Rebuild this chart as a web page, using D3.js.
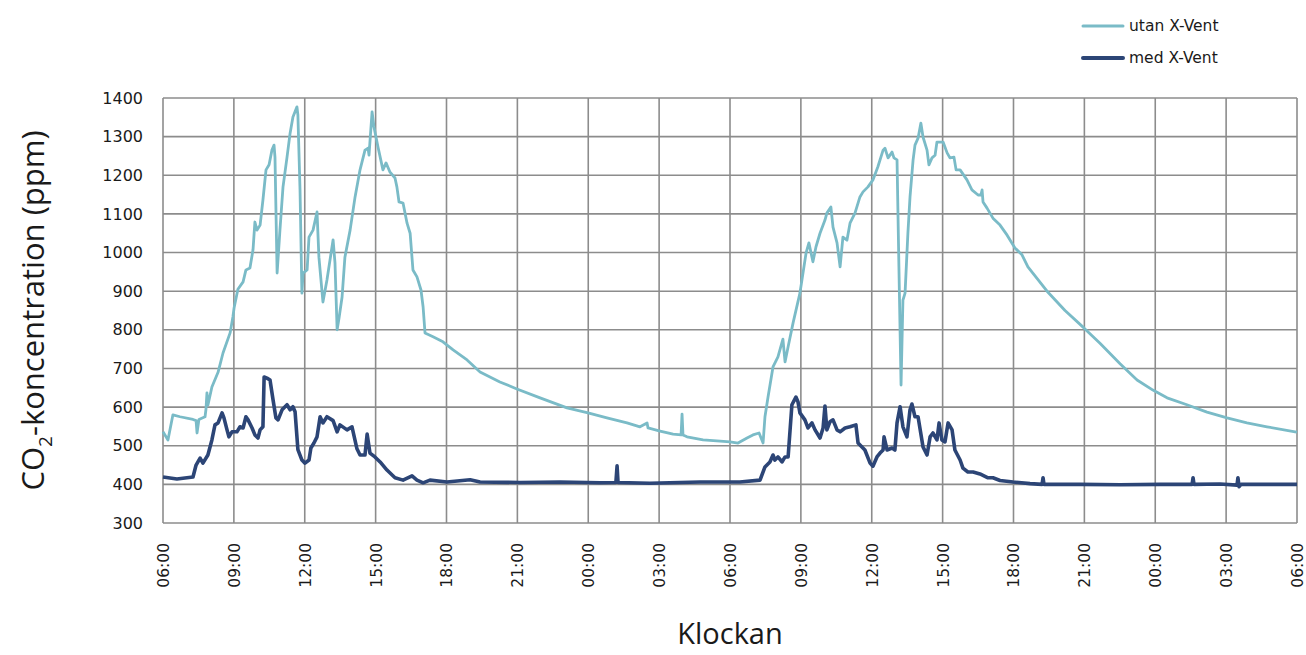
<!DOCTYPE html>
<html>
<head>
<meta charset="utf-8">
<script src="https://cdn.jsdelivr.net/npm/d3@7"></script>
<style>
  html, body { margin: 0; padding: 0; background: #fff; }
  svg { display: block; }
</style>
</head>
<body>
<svg id="chart" width="1306" height="655"></svg>
<script>
// Time in hours after 06:00 on day 1 (0..48)
const xTickLabels = ["06:00","09:00","12:00","15:00","18:00","21:00","00:00","03:00","06:00","09:00","12:00","15:00","18:00","21:00","00:00","03:00","06:00"];
const yTicks = [300,400,500,600,700,800,900,1000,1100,1200,1300,1400];
const seriesNames = ["utan X-Vent", "med X-Vent"];

const utanHours = [0.00,0.21,0.42,0.72,1.27,1.40,1.44,1.52,1.78,1.82,1.86,1.90,2.07,2.33,2.54,2.84,2.96,3.01,3.17,3.39,3.51,3.68,3.81,3.89,3.98,4.11,4.23,4.36,4.49,4.61,4.70,4.74,4.83,4.95,5.08,5.25,5.38,5.50,5.67,5.71,5.80,5.88,5.93,6.10,6.18,6.35,6.52,6.60,6.77,6.94,7.20,7.28,7.37,7.45,7.58,7.70,7.92,8.13,8.34,8.55,8.68,8.72,8.85,8.93,9.10,9.31,9.44,9.61,9.82,9.90,9.99,10.16,10.33,10.46,10.58,10.75,10.92,11.01,11.09,11.43,11.85,12.28,12.87,13.42,14.26,14.98,15.96,17.10,17.99,18.79,19.64,20.19,20.49,20.53,21.04,21.59,21.93,21.97,22.01,22.18,22.86,23.58,24.00,24.34,24.72,24.97,25.23,25.40,25.48,25.61,25.82,26.03,26.24,26.33,26.46,26.67,26.96,27.22,27.34,27.51,27.64,27.81,28.02,28.10,28.27,28.36,28.53,28.66,28.78,28.95,29.08,29.29,29.50,29.63,29.84,30.05,30.26,30.48,30.56,30.69,30.86,30.94,31.07,31.15,31.24,31.32,31.41,31.53,31.62,31.75,31.83,31.96,32.08,32.17,32.34,32.42,32.55,32.68,32.76,33.02,33.19,33.31,33.48,33.57,33.74,34.03,34.24,34.50,34.62,34.67,34.71,34.88,35.13,35.43,35.73,36.06,36.36,36.61,37.42,38.18,38.98,39.66,40.51,41.23,41.90,42.50,43.34,44.19,45.04,45.88,46.73,47.92,48.00];
const utanValues = [536,515,580,575,568,565,533,568,575,595,637,605,652,690,740,792,834,857,905,924,955,960,1007,1079,1058,1071,1136,1214,1227,1265,1278,1247,947,1058,1170,1247,1309,1351,1377,1356,1162,895,947,955,1040,1058,1105,988,872,929,1033,973,800,830,885,988,1058,1144,1214,1265,1270,1252,1364,1325,1273,1214,1232,1208,1193,1170,1131,1128,1076,1050,955,937,903,859,792,782,769,748,722,691,665,647,624,598,585,572,559,549,559,546,538,530,528,582,528,523,515,512,510,507,520,528,533,507,575,626,704,730,776,717,756,818,895,999,1025,976,1015,1050,1084,1102,1118,1066,1025,963,1040,1032,1076,1102,1144,1157,1170,1188,1222,1265,1270,1245,1260,1245,1240,963,657,877,895,1050,1144,1240,1278,1296,1335,1299,1265,1227,1245,1252,1286,1286,1258,1245,1247,1214,1214,1188,1162,1149,1149,1162,1131,1115,1089,1071,1045,1012,994,963,900,850,805,765,712,670,644,624,606,587,572,559,549,536,535];

const medHours = [0.00,0.59,1.27,1.40,1.57,1.69,1.90,2.07,2.20,2.33,2.50,2.58,2.71,2.79,2.92,3.13,3.26,3.39,3.51,3.60,3.77,3.89,4.02,4.11,4.23,4.28,4.40,4.53,4.66,4.78,4.87,5.04,5.25,5.38,5.50,5.59,5.71,5.88,6.01,6.18,6.26,6.39,6.52,6.65,6.77,6.94,7.20,7.37,7.49,7.79,8.00,8.21,8.34,8.55,8.64,8.76,8.97,9.19,9.48,9.82,10.16,10.54,10.75,11.01,11.30,12.02,13.00,13.42,15.11,16.80,18.50,19.17,19.22,19.26,20.61,22.73,24.42,25.27,25.48,25.69,25.82,25.90,26.03,26.20,26.33,26.46,26.62,26.79,26.88,26.96,27.17,27.30,27.47,27.60,27.81,27.94,28.02,28.10,28.23,28.36,28.53,28.66,28.87,29.08,29.33,29.42,29.71,29.93,30.05,30.22,30.35,30.48,30.52,30.65,30.86,30.98,31.07,31.20,31.32,31.49,31.62,31.70,31.83,31.96,32.17,32.34,32.47,32.59,32.76,32.85,32.97,33.10,33.23,33.40,33.52,33.74,33.86,34.07,34.29,34.58,34.92,35.13,35.43,35.98,36.70,37.21,37.25,37.29,38.82,40.51,42.20,43.56,43.60,43.64,44.74,45.46,45.50,45.55,45.63,46.86,48.00];
const medValues = [419,414,419,450,468,455,476,515,554,559,585,572,541,523,536,536,549,546,575,567,546,528,520,541,549,678,675,670,618,572,567,593,606,593,601,588,490,463,455,463,494,507,523,575,559,575,565,536,554,541,549,492,476,476,530,481,471,458,437,417,411,422,411,404,411,406,412,406,405,406,404,405,448,405,403,406,406,411,445,458,476,463,471,458,471,471,606,626,613,585,567,546,559,541,520,546,603,541,562,567,541,536,546,549,554,507,489,455,447,471,481,489,523,489,494,489,559,601,549,523,593,608,575,575,497,476,523,533,515,559,515,510,559,541,489,463,442,432,432,427,417,417,410,406,402,400,417,400,400,399,400,400,417,400,401,398,417,394,400,400,400];

const colors = ["#7abbc7", "#2c4576"];

const svg = d3.select("#chart");
const margin = {left: 163, right: 9, top: 98, bottom: 132};
const W = 1306, H = 655;
const x = d3.scaleLinear().domain([0, 48]).range([margin.left, W - margin.right]);
const y = d3.scaleLinear().domain([300, 1400]).range([H - margin.bottom, margin.top]);

const gridColor = "#8c8c8c";

// grid
svg.append("g").selectAll("line.h").data(yTicks).join("line")
  .attr("x1", x(0)).attr("x2", x(48))
  .attr("y1", d => y(d)).attr("y2", d => y(d))
  .attr("stroke", gridColor).attr("stroke-width", 1.6);
const xTickVals = xTickLabels.map((d, i) => i * 3);
svg.append("g").selectAll("line.v").data(xTickVals).join("line")
  .attr("x1", d => x(d)).attr("x2", d => x(d))
  .attr("y1", y(300)).attr("y2", y(1400))
  .attr("stroke", gridColor).attr("stroke-width", 1.6);

// axes (labels)
const yAxis = d3.axisLeft(y).tickValues(yTicks).tickSize(0).tickPadding(20).tickFormat(d3.format("d"));
const gy = svg.append("g").attr("transform", `translate(${x(0)},0)`).call(yAxis);
gy.select(".domain").remove();
gy.selectAll("text").attr("font-family", "DejaVu Sans, sans-serif").attr("font-size", 16).attr("fill", "#1a1a1a");

const xAxis = d3.axisBottom(x).tickValues(xTickVals).tickSize(0).tickFormat((d, i) => xTickLabels[i]);
const gx = svg.append("g").attr("transform", `translate(0,${y(300)})`).call(xAxis);
gx.select(".domain").remove();
gx.selectAll("text")
  .attr("font-family", "DejaVu Sans, sans-serif").attr("font-size", 15.5).attr("fill", "#1a1a1a")
  .attr("text-anchor", "end")
  .attr("transform", "rotate(-90)")
  .attr("x", -20).attr("y", 0).attr("dy", "0.35em");

// lines
const line = d3.line().x(d => x(d[0])).y(d => y(d[1]));
const utan = utanHours.map((h, i) => [h, utanValues[i]]);
const med = medHours.map((h, i) => [h, medValues[i]]);
svg.append("path").datum(utan).attr("d", line).attr("fill", "none")
  .attr("stroke", colors[0]).attr("stroke-width", 2.8).attr("stroke-linejoin", "round");
svg.append("path").datum(med).attr("d", line).attr("fill", "none")
  .attr("stroke", colors[1]).attr("stroke-width", 3.6).attr("stroke-linejoin", "round");

// legend
const lg = svg.append("g");
seriesNames.forEach((n, i) => {
  const ly = 26 + i * 32;
  lg.append("line").attr("x1", 1083).attr("x2", 1123).attr("y1", ly).attr("y2", ly)
    .attr("stroke", colors[i]).attr("stroke-width", i === 0 ? 3 : 4).attr("stroke-linecap", "round");
  lg.append("text").attr("x", 1129).attr("y", ly).attr("dy", "0.35em")
    .attr("font-family", "DejaVu Sans, sans-serif").attr("font-size", 15.5).attr("fill", "#1a1a1a").text(n);
});

// axis titles
const yt = svg.append("text")
  .attr("transform", `translate(44,${(y(300) + y(1400)) / 2}) rotate(-90)`)
  .attr("text-anchor", "middle")
  .attr("font-family", "Open Sans, sans-serif").attr("font-size", 31).attr("fill", "#1a1a1a");
yt.append("tspan").text("CO");
yt.append("tspan").attr("font-size", 19).attr("dy", 8).text("2");
yt.append("tspan").attr("dy", -8).text("-koncentration (ppm)");

svg.append("text").attr("x", 730).attr("y", 644)
  .attr("text-anchor", "middle")
  .attr("font-family", "Open Sans, sans-serif").attr("font-size", 29).attr("fill", "#1a1a1a")
  .text("Klockan");
</script>
</body>
</html>
